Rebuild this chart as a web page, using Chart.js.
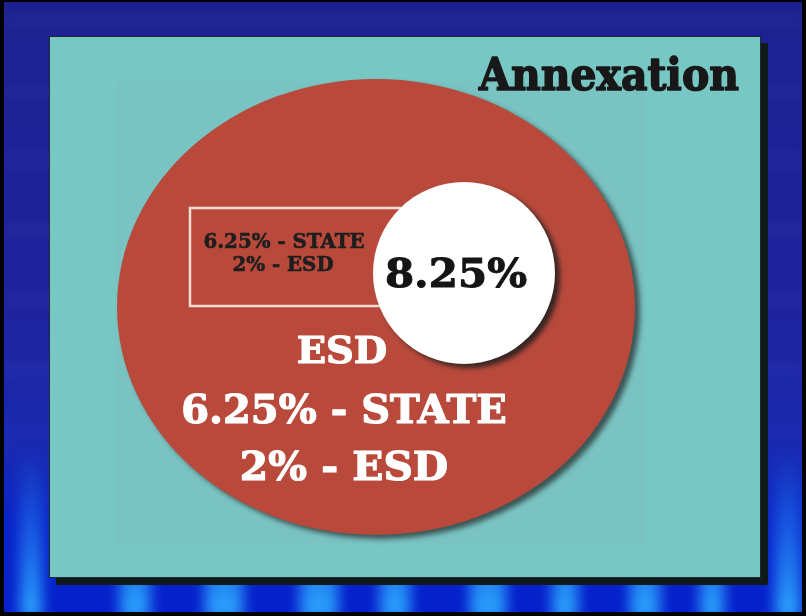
<!DOCTYPE html>
<html>
<head>
<meta charset="utf-8">
<title>Annexation</title>
<script src="https://cdn.jsdelivr.net/npm/chart.js@4.4.1/dist/chart.umd.min.js"></script>
<style>
  html, body { margin: 0; padding: 0; background: #000; overflow: hidden; }
</style>
</head>
<body>
<canvas id="annexChart" width="806" height="616"></canvas>
<script>
// slide units (same as the x / y axes below)
const areaNames = ["ESD", "City"];
const areaCenterX = [376, 464];
const areaCenterY = [307, 273];
const areaRadiusX = [259, 91];
const areaRadiusY = [228, 91];

// legend box behind the small text
const boxX = [190, 400];
const boxY = [208, 306];

// text labels and where they sit
const labelText = ["Annexation", "6.25% - STATE", "2% - ESD", "8.25%", "ESD", "6.25% - STATE", "2% - ESD"];
const labelX = [739, 284, 283, 456, 342, 344, 344];
const labelY = [90, 248, 271, 287, 363, 423, 480];

const panelX = [49, 761];
const panelY = [36, 578];

const labelStyle = [
  { size: 45, color: "#181818", align: "right", squeeze: 0.91, bold: 1.6 },
  { size: 20, color: "#1e1e1e", align: "center", squeeze: 0.99, bold: 0.6 },
  { size: 20, color: "#1e1e1e", align: "center", squeeze: 0.99, bold: 0.6 },
  { size: 40, color: "#151515", align: "center", squeeze: 1.05, bold: 1 },
  { size: 37, color: "#ffffff", align: "center", squeeze: 1.04, bold: 1.2 },
  { size: 40, color: "#ffffff", align: "center", squeeze: 1.0, bold: 1.2 },
  { size: 40, color: "#ffffff", align: "center", squeeze: 1.02, bold: 1.2 }
];

function px(chart, v) { return chart.scales.x.getPixelForValue(v); }
function py(chart, v) { return chart.scales.y.getPixelForValue(v); }

const slideBackground = {
  id: "slideBackground",
  beforeDraw(chart) {
    const ctx = chart.ctx;
    const W = chart.width, H = chart.height;
    ctx.save();
    // blue backdrop
    let g = ctx.createLinearGradient(0, 0, 0, H);
    g.addColorStop(0, "#1d2190");
    g.addColorStop(0.5, "#1f239e");
    g.addColorStop(0.72, "#1a2ab0");
    g.addColorStop(0.85, "#0a24c8");
    g.addColorStop(1, "#0520cc");
    ctx.fillStyle = g;
    ctx.fillRect(0, 0, W, H);
    // faint streaks up top
    ctx.filter = "blur(6px)";
    ctx.fillStyle = "rgba(90,100,210,0.10)";
    for (let i = 0; i < 6; i++) {
      ctx.fillRect(0, 14 + i * 70, W, 12);
    }
    // soft light columns at the bottom
    const cols = [[20, 22], [120, 30], [205, 38], [300, 38], [380, 30], [470, 36], [552, 26], [630, 30], [700, 24], [775, 26]];
    ctx.filter = "blur(7px)";
    cols.forEach(c => {
      const cg = ctx.createLinearGradient(0, 450, 0, 612);
      cg.addColorStop(0, "rgba(40,150,255,0)");
      cg.addColorStop(0.45, "rgba(40,150,255,0.45)");
      cg.addColorStop(1, "rgba(45,170,255,0.95)");
      ctx.fillStyle = cg;
      ctx.fillRect(c[0], 450, c[1], 170);
    });
    ctx.filter = "none";
    // black frame
    ctx.fillStyle = "#000";
    ctx.fillRect(0, 0, W, 2);
    ctx.fillRect(0, 0, 4, H);
    ctx.fillRect(W - 4, 0, 4, H);
    ctx.fillRect(0, H - 4, W, 4);
    // panel shadow + panel
    const x0 = px(chart, panelX[0]), x1 = px(chart, panelX[1]);
    const y0 = py(chart, panelY[0]), y1 = py(chart, panelY[1]);
    ctx.fillStyle = "#101a1c";
    ctx.fillRect(x0 + 7, y0 + 7, x1 - x0, y1 - y0);
    ctx.fillStyle = "#77c7c4";
    ctx.fillRect(x0, y0, x1 - x0, y1 - y0);
    ctx.fillStyle = "rgba(125,190,192,0.35)";
    ctx.fillRect(x0 + 66, y0 + 46, 530, 463);
    ctx.strokeStyle = "#1c2a2a";
    ctx.lineWidth = 1;
    ctx.strokeRect(x0 + 0.5, y0 + 0.5, x1 - x0 - 1, y1 - y0 - 1);
    ctx.restore();
  }
};

function drawArea(chart, i, fill, shadow) {
  const ctx = chart.ctx;
  const cx = px(chart, areaCenterX[i]);
  const cy = py(chart, areaCenterY[i]);
  const rx = px(chart, areaCenterX[i] + areaRadiusX[i]) - cx;
  const ry = py(chart, areaCenterY[i] + areaRadiusY[i]) - cy;
  ctx.save();
  ctx.shadowColor = shadow;
  ctx.shadowOffsetX = 5;
  ctx.shadowOffsetY = 4;
  ctx.shadowBlur = 5;
  ctx.fillStyle = fill;
  ctx.beginPath();
  ctx.ellipse(cx, cy, Math.abs(rx), Math.abs(ry), 0, 0, Math.PI * 2);
  ctx.fill();
  ctx.restore();
}

const areaShapes = {
  id: "areaShapes",
  afterDatasetsDraw(chart) {
    const ctx = chart.ctx;
    // ESD area
    drawArea(chart, 0, "#b94a3b", "rgba(40,50,50,0.75)");
    // small box
    ctx.save();
    ctx.strokeStyle = "#f6dcd4";
    ctx.lineWidth = 2.5;
    const bx0 = px(chart, boxX[0]), bx1 = px(chart, boxX[1]);
    const by0 = py(chart, boxY[0]), by1 = py(chart, boxY[1]);
    ctx.strokeRect(bx0, by0, bx1 - bx0, by1 - by0);
    ctx.restore();
    // city circle
    drawArea(chart, 1, "#ffffff", "rgba(30,30,30,0.85)");

    // labels, placed at the dataset points
    const pts = chart.getDatasetMeta(0).data;
    labelText.forEach((t, i) => {
      const s = labelStyle[i];
      ctx.save();
      ctx.font = "bold " + s.size + "px 'DejaVu Serif', serif";
      ctx.fillStyle = s.color;
      ctx.strokeStyle = s.color;
      ctx.lineWidth = s.bold;
      ctx.lineJoin = "round";
      ctx.textAlign = s.align;
      ctx.textBaseline = "alphabetic";
      ctx.translate(pts[i].x, pts[i].y);
      ctx.scale(s.squeeze, 1);
      ctx.fillText(t, 0, 0);
      ctx.strokeText(t, 0, 0);
      ctx.restore();
    });
  }
};

new Chart(document.getElementById("annexChart"), {
  type: "scatter",
  data: {
    datasets: [{
      label: "labels",
      data: labelText.map((t, i) => ({ x: labelX[i], y: labelY[i] })),
      pointRadius: 0
    }]
  },
  options: {
    responsive: false,
    animation: false,
    events: [],
    layout: { padding: 0 },
    plugins: {
      legend: { display: false },
      tooltip: { enabled: false }
    },
    scales: {
      x: { type: "linear", min: 0, max: 806, display: false },
      y: { type: "linear", min: 0, max: 616, reverse: true, display: false }
    }
  },
  plugins: [slideBackground, areaShapes]
});
</script>
</body>
</html>
